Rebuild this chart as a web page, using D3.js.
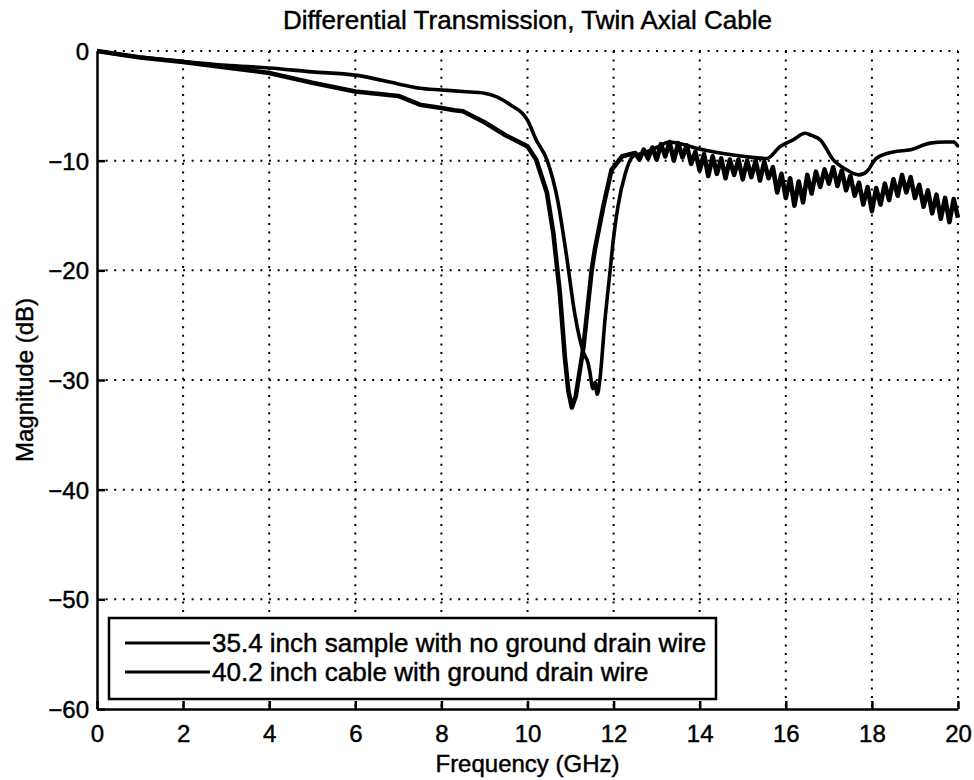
<!DOCTYPE html>
<html>
<head>
<meta charset="utf-8">
<script src="https://cdn.jsdelivr.net/npm/d3@7"></script>
<style>
  body { margin: 0; background: #fff; }
  svg { display: block; font-family: "Liberation Sans", Arial, sans-serif; }
  svg text { fill: #000; stroke: #000; stroke-width: 0.45px; }
</style>
</head>
<body>
<script>
// chart values
const xTicks = [0, 2, 4, 6, 8, 10, 12, 14, 16, 18, 20];
const yTicks = [0, -10, -20, -30, -40, -50, -60];
const seriesNames = ["35.4 inch sample with no ground drain wire", "40.2 inch cable with ground drain wire"];

// 35.4 inch sample, no drain wire
const freqA = [0, 0.5, 1, 2, 3, 4, 5, 6, 7, 7.5, 8, 8.5, 9, 9.3, 9.6, 10.0, 10.2, 10.45, 10.7, 10.9, 11.1, 11.3, 11.41,
  11.45, 11.52, 11.57, 11.62, 11.68, 11.8, 11.92, 12.0, 12.1, 12.27, 12.45, 12.7, 13.0, 13.3, 13.6, 13.94, 14.47,
  15.0, 15.56, 15.87, 16.17, 16.45, 16.6, 16.8, 17.1, 17.4, 17.7, 17.88, 18.1, 18.5, 18.9, 19.35, 19.7, 19.9, 20];
const dbA = [0, -0.3, -0.55, -0.95, -1.3, -1.55, -1.9, -2.2, -3.0, -3.4, -3.55, -3.7, -3.85, -4.2, -4.9, -6.3, -8.1, -9.9, -13.6, -18.5, -24, -27.5, -28.5,
  -29.3, -30.8, -30.2, -31.3, -30.0, -24.5, -20, -17, -14.2, -11.2, -9.6, -9.3, -8.8, -8.3, -8.5, -8.9, -9.3,
  -9.6, -9.8, -8.7, -8.1, -7.5, -7.7, -8.1, -9.9, -10.8, -11.3, -11.0, -9.8, -9.2, -9.0, -8.4, -8.3, -8.3, -8.7];

// 40.2 inch cable, with drain wire (noisy trace)
const freqB = [0, 1, 2, 3, 4, 5, 6, 6.5, 7, 7.5, 8, 8.3, 8.5, 9.0, 9.5, 10.0, 10.2, 10.45, 10.6, 10.75, 10.87, 10.95, 11.03,
  11.12, 11.2, 11.3, 11.49, 11.57, 11.76, 11.95, 12.2,
  12.5, 12.6, 12.7, 12.8, 12.9, 13.0, 13.1, 13.2, 13.3, 13.4, 13.5, 13.6, 13.7, 13.8, 13.9, 14.0, 14.1, 14.2, 14.3, 14.4,
  14.5, 14.6, 14.7, 14.8, 14.9, 15.0, 15.1, 15.2, 15.3, 15.4, 15.5, 15.6, 15.7, 15.8, 15.9, 16.0, 16.1, 16.2, 16.3, 16.4,
  16.5, 16.6, 16.7, 16.8, 16.9, 17.0, 17.1, 17.2, 17.3, 17.4, 17.5, 17.6, 17.7, 17.8, 17.9, 18.0, 18.1, 18.2, 18.3, 18.4,
  18.5, 18.6, 18.7, 18.8, 18.9, 19.0, 19.1, 19.2, 19.3, 19.4, 19.5, 19.6, 19.7, 19.8, 19.9, 20.0];
const dbB = [0, -0.6, -1.0, -1.5, -2.0, -2.9, -3.7, -3.9, -4.1, -4.9, -5.2, -5.4, -5.5, -6.5, -7.7, -8.7, -9.9, -12.9, -16.6, -22, -28, -31, -32.5,
  -31.5, -29.5, -27, -20, -18, -14.2, -10.85, -9.6,
  -9.3, -9.9, -9.0, -9.8, -8.8, -9.9, -8.5, -9.6, -8.3, -10.0, -8.4, -9.7, -8.6, -10.3, -9.2, -10.9, -9.4, -11.4, -9.6, -11.2,
  -9.8, -11.6, -9.9, -11.3, -9.9, -11.7, -10.0, -11.5, -10.0, -11.8, -10.1, -11.6, -10.6, -12.9, -11.2, -13.4, -11.6, -14.1, -11.9, -13.8,
  -11.3, -13.0, -11.0, -12.4, -10.8, -12.1, -10.6, -12.3, -10.9, -12.7, -11.4, -13.2, -12.0, -14.0, -12.4, -14.6, -12.5, -14.0, -12.1, -13.6,
  -11.7, -13.2, -11.3, -12.9, -11.5, -13.4, -12.2, -14.2, -12.7, -14.8, -13.1, -15.3, -13.4, -15.6, -13.5, -15.2];

const width = 974, height = 780;
const margin = {left: 97, right: 16, top: 51, bottom: 71};

const svg = d3.select("body").append("svg")
  .attr("width", width)
  .attr("height", height);

const x = d3.scaleLinear().domain([0, 20]).range([margin.left, width - margin.right]);
const y = d3.scaleLinear().domain([-60, 0]).range([height - margin.bottom, margin.top]);

// dotted grid
svg.append("g").selectAll("line")
  .data(xTicks.slice(1))
  .enter().append("line")
    .attr("x1", d => x(d)).attr("x2", d => x(d))
    .attr("y1", y(0)).attr("y2", y(-60))
    .attr("stroke", "#000").attr("stroke-width", 2)
    .attr("stroke-dasharray", "2,6.6");

svg.append("g").selectAll("line")
  .data(yTicks.slice(0, -1))
  .enter().append("line")
    .attr("x1", x(0)).attr("x2", x(20))
    .attr("y1", d => y(d)).attr("y2", d => y(d))
    .attr("stroke", "#000").attr("stroke-width", 2)
    .attr("stroke-dasharray", "2,6.6");

// axes, ticks inside
const xAxis = svg.append("g")
  .attr("transform", `translate(0,${y(-60)})`)
  .call(d3.axisBottom(x).tickValues(xTicks).tickSizeInner(-8).tickSizeOuter(0).tickPadding(16));
const yAxis = svg.append("g")
  .attr("transform", `translate(${x(0)},0)`)
  .call(d3.axisLeft(y).tickValues(yTicks).tickSizeInner(-8).tickSizeOuter(0).tickPadding(8));

[xAxis, yAxis].forEach(g => {
  g.select(".domain").attr("stroke", "#000").attr("stroke-width", 2.5);
  g.selectAll(".tick line").attr("stroke", "#000").attr("stroke-width", 2.5);
  g.selectAll(".tick text")
    .attr("fill", "#000")
    .style("font-family", '"Liberation Sans", Arial, sans-serif')
    .style("font-size", "24px");
});
xAxis.selectAll(".tick text").attr("dy", "0.71em");
yAxis.selectAll(".tick text").attr("dy", "0.36em");

// curves
const smooth = d3.line()
  .curve(d3.curveMonotoneX)
  .x(d => x(d[0]))
  .y(d => y(d[1]));

const jagged = d3.line()
  .x(d => x(d[0]))
  .y(d => y(d[1]));

svg.append("path")
  .datum(freqA.map((f, i) => [f, dbA[i]]))
  .attr("fill", "none")
  .attr("stroke", "#000")
  .attr("stroke-width", 3.6)
  .attr("stroke-linejoin", "round")
  .attr("d", smooth);

svg.append("path")
  .datum(freqB.map((f, i) => [f, dbB[i]]))
  .attr("fill", "none")
  .attr("stroke", "#000")
  .attr("stroke-width", 4.6)
  .attr("stroke-linejoin", "round")
  .attr("d", jagged);

// title and labels
svg.append("text")
  .attr("x", x(10))
  .attr("y", 29)
  .attr("text-anchor", "middle")
  .style("font-size", "26px")
  .text("Differential Transmission, Twin Axial Cable");

svg.append("text")
  .attr("x", x(10))
  .attr("y", 772)
  .attr("text-anchor", "middle")
  .style("font-size", "24px")
  .text("Frequency (GHz)");

svg.append("text")
  .attr("transform", `translate(33,${y(-30)}) rotate(-90)`)
  .attr("text-anchor", "middle")
  .style("font-size", "24px")
  .text("Magnitude (dB)");

// legend
const legend = svg.append("g");
legend.append("rect")
  .attr("x", 109).attr("y", 618)
  .attr("width", 607).attr("height", 81)
  .attr("fill", "#fff")
  .attr("stroke", "#000")
  .attr("stroke-width", 2.5);

seriesNames.forEach((name, i) => {
  const cy = 643 + i * 29;
  legend.append("line")
    .attr("x1", 125).attr("x2", 210)
    .attr("y1", cy).attr("y2", cy)
    .attr("stroke", "#000").attr("stroke-width", 3);
  legend.append("text")
    .attr("x", 212).attr("y", cy)
    .attr("dy", "0.36em")
    .style("font-size", "26px")
    .text(name);
});
</script>
</body>
</html>
